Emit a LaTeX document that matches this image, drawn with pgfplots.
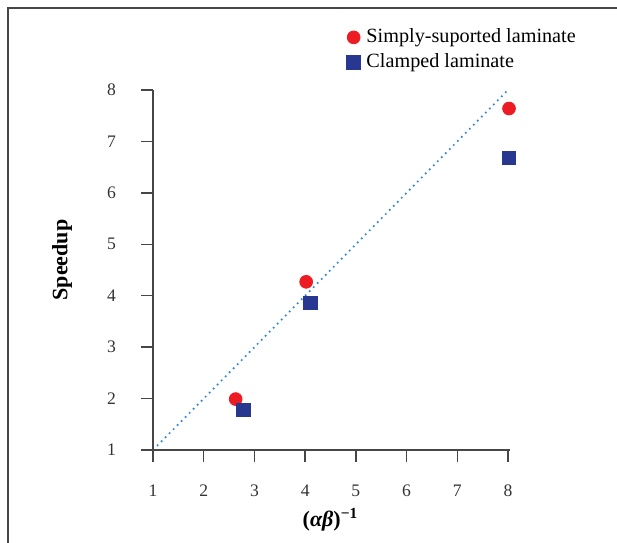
\documentclass[border=0pt]{standalone}
\usepackage{fontspec}
\setmainfont{Liberation Serif}
\usepackage{pgfplots}
\pgfplotsset{compat=1.18}
\definecolor{ssred}{RGB}{237,28,36}
\definecolor{clblue}{RGB}{40,56,145}
\definecolor{diag}{RGB}{52,136,210}
\definecolor{axgray}{RGB}{70,70,70}
\begin{document}
\begin{tikzpicture}
\begin{axis}[
  scale only axis,
  width=177.5pt, height=180pt,
  xmin=1, xmax=8, ymin=1, ymax=8,
  clip=false,
  axis lines=left,
  axis line style={draw=none},
  xtick={1,...,8}, ytick={1,...,8},
  xticklabels={1,2,3,4,5,\raisebox{-0.65ex}{6},7,8},
  tick align=outside,
  major tick length=6pt,
  tick style={axgray, line width=0.7pt},
  /pgf/number format/assume math mode=true,
  tick label style={font=\fontsize{8.8}{10}\selectfont, text=black!80},
  xticklabel style={yshift=-8pt},
  yticklabel style={xshift=-9pt},
  xlabel={\textbf{(\textit{αβ})\textsuperscript{−1}}},
  ylabel={\textbf{Speedup}},
  label style={font=\fontsize{11}{13}\selectfont},
  xlabel style={at={(axis description cs:0.5,-0.194)}, anchor=center},
  ylabel style={at={(axis description cs:-0.256,0.528)}, anchor=center, rotate=0},
  legend style={at={(axis description cs:0.545,1.182)}, anchor=north west,
    draw=none, fill=none, font=\fontsize{10.1}{12}\selectfont, row sep=0pt,
    inner sep=0pt, nodes={inner xsep=3pt}},
  legend cell align=left,
]
\addplot[only marks, mark=*, mark size=3.2pt, color=ssred]
  coordinates {(2.63,1.99) (4.02,4.27) (8.02,7.64)};
\addlegendentry{Simply-suported laminate}
\addplot[only marks, mark=square*, mark size=3.4pt, color=clblue]
  coordinates {(2.78,1.78) (4.10,3.86) (8.02,6.68)};
\addlegendentry{Clamped laminate}
\addplot[diag, dotted, line width=0.85pt, forget plot] coordinates {(1,1) (8,8)};
% axis lines
\draw[axgray, line width=0.8pt] (axis cs:0.76,1) -- (axis cs:8.03,1);
\draw[axgray, line width=0.8pt] (axis cs:1,0.9) -- (axis cs:1,8);
% frame
\draw[axgray, line width=1pt] (rel axis cs:-0.408,-0.26) -- (rel axis cs:-0.408,1.228) -- (rel axis cs:1.31,1.228);
\coordinate (bl) at (rel axis cs:-0.431,-0.258);
\coordinate (tr) at (rel axis cs:1.307,1.250);
\end{axis}
\pgfresetboundingbox
\useasboundingbox (bl) rectangle (tr);
\end{tikzpicture}
\end{document}
